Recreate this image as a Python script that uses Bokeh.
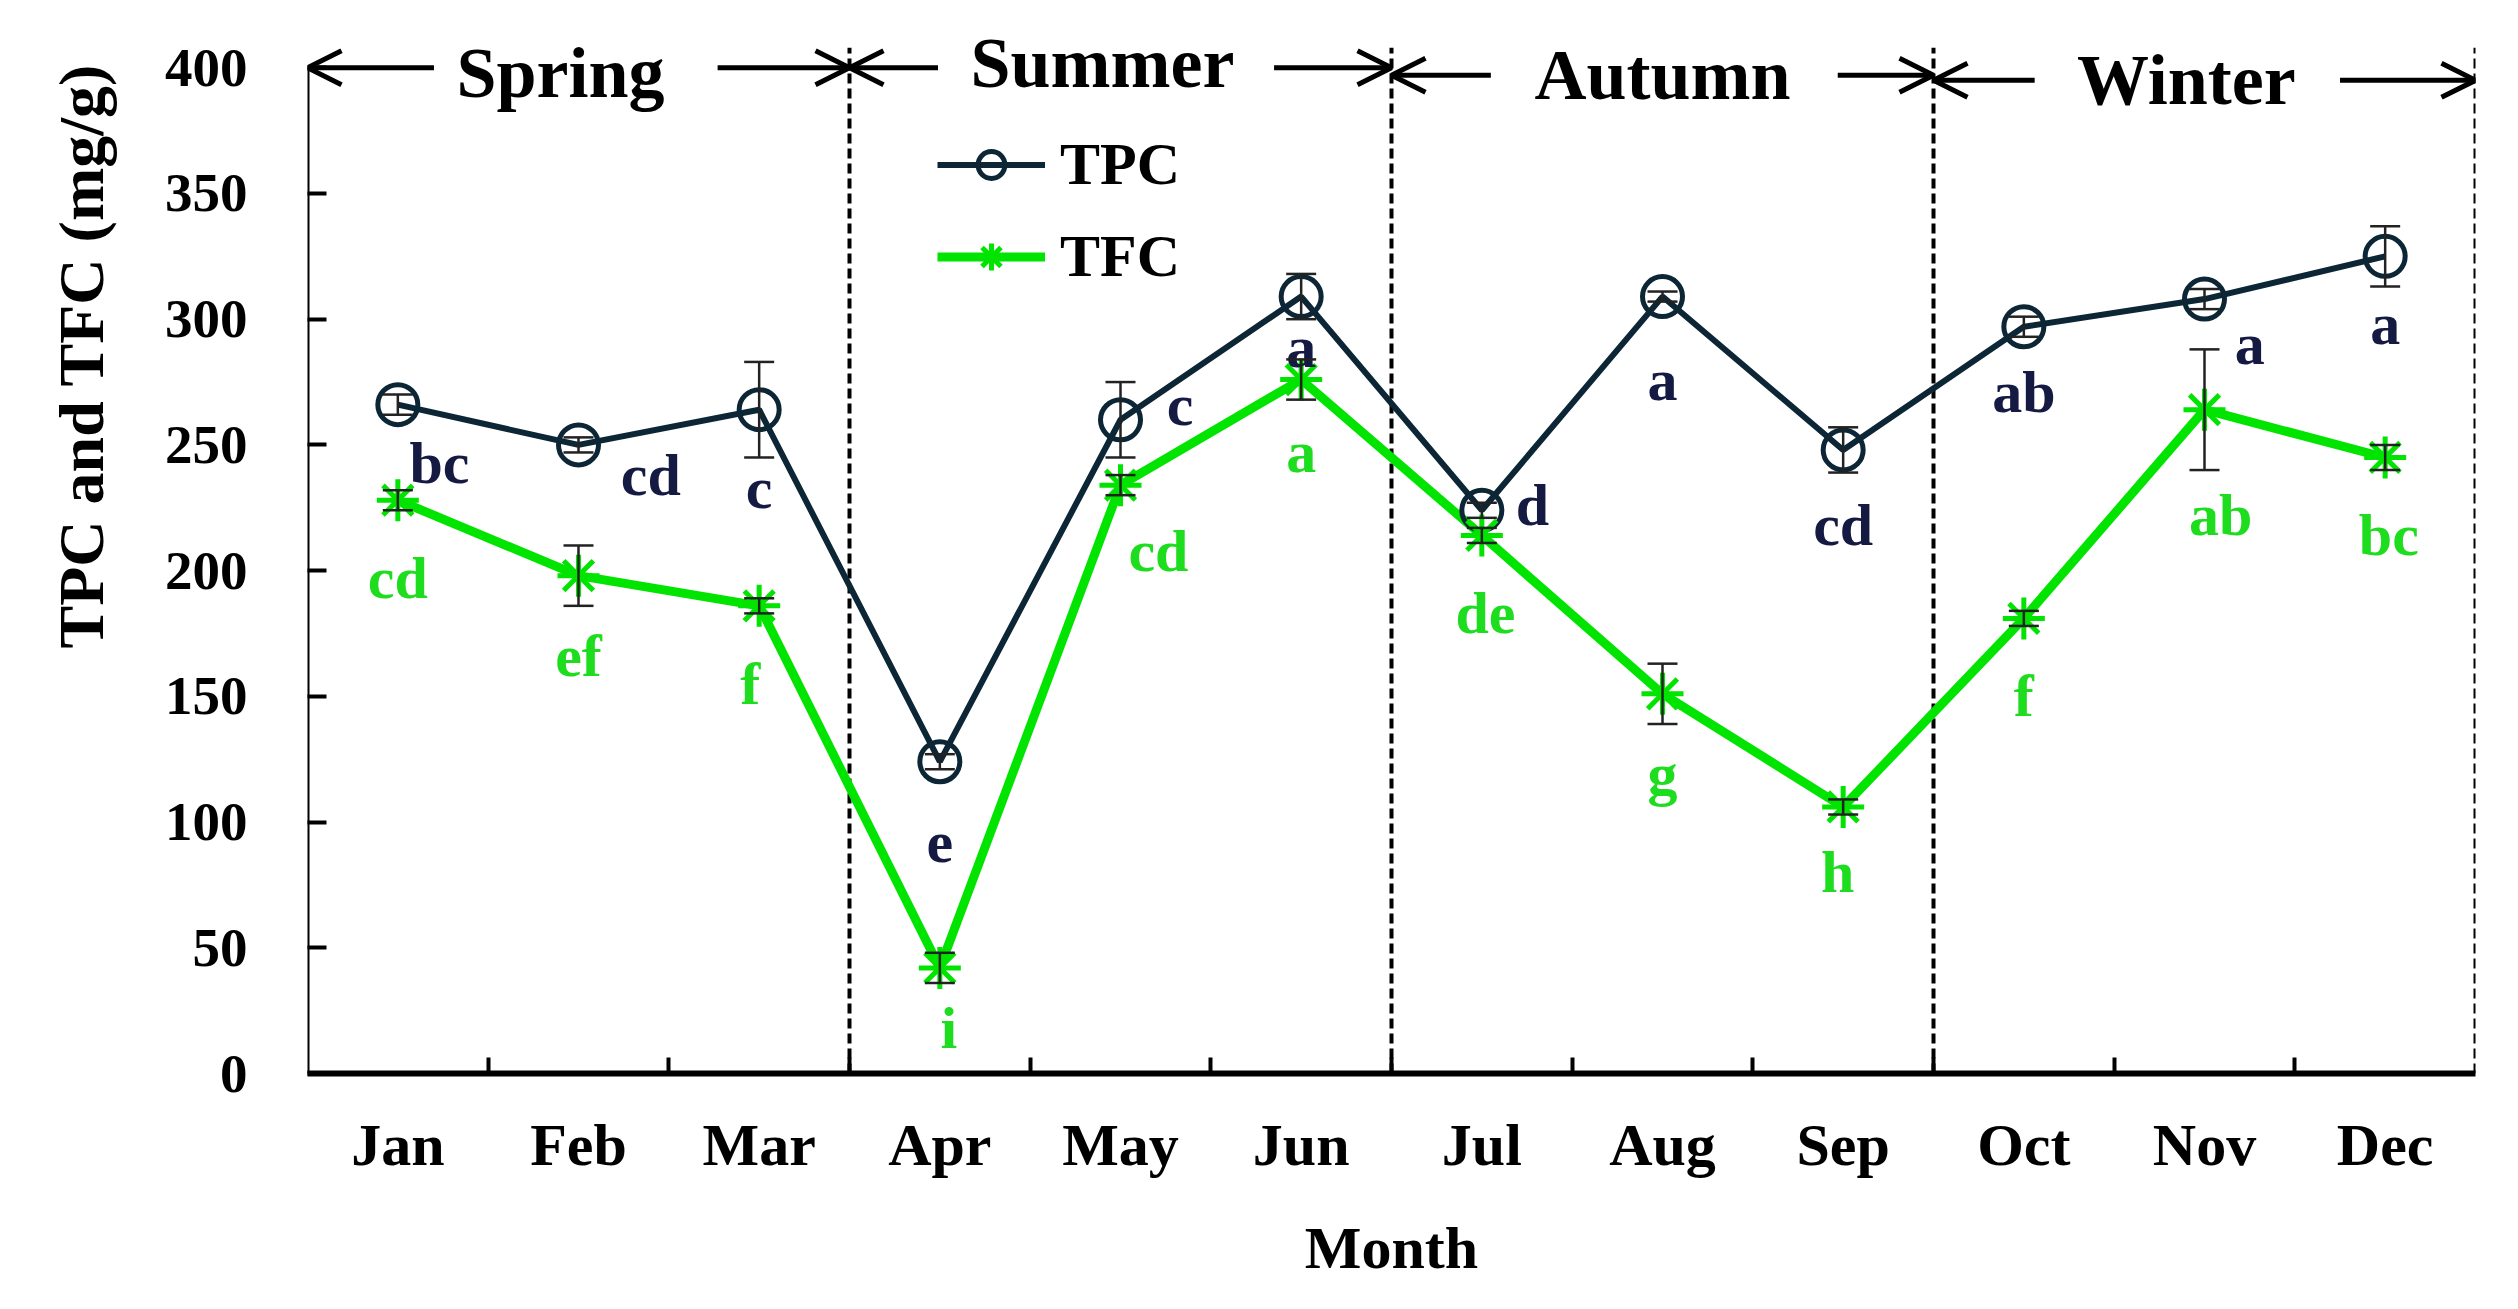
from bokeh.plotting import figure
from bokeh.models import (ColumnDataSource, Range1d, FixedTicker, Whisker, TeeHead,
                          Arrow, OpenHead, Legend, LegendItem)
from bokeh.embed import file_html
from bokeh.resources import INLINE
from bokeh.core.properties import value
import numpy as np

# ---------------- data ----------------
months = ["Jan", "Feb", "Mar", "Apr", "May", "Jun", "Jul", "Aug", "Sep", "Oct", "Nov", "Dec"]
tpc = [266, 250, 264, 124, 260, 309, 224, 309, 248, 297, 308, 325]
tpc_err = [4, 3, 19, 3, 15, 9, 3, 2, 9, 4, 4, 12]
tfc = [228, 198, 186, 42, 234, 276, 214, 151, 106, 181, 264, 245]
tfc_err = [4, 12, 3, 6, 4, 8, 3, 12, 3, 3, 24, 5]
tpc_letters = ["bc", "cd", "c", "e", "c", "a", "d", "a", "cd", "ab", "a", "a"]
tfc_letters = ["cd", "ef", "f", "i", "cd", "a", "de", "g", "h", "f", "ab", "bc"]
seasons = ["Spring", "Summer", "Autumn", "Winter"]
season_bounds = [0.5, 3.5, 6.5, 9.5, 12.5]
y_ticks = [0, 50, 100, 150, 200, 250, 300, 350, 400]
y_title = "TPC and TFC (mg/g)"

# ---------------- layout constants ----------------
tpc_dx = [0.23, 0.40, 0.0, 0.0, 0.33, 0.0, 0.28, 0.0, 0.0, 0.0, 0.25, 0.0]
tpc_dy = [-23, -12, -31, -32, 6, -20, 2, -33, -30, -26, -18, -27]
tfc_dx = [0.0, 0.0, -0.05, 0.05, 0.21, 0.0, 0.02, 0.0, -0.03, 0.0, 0.09, 0.02]
tfc_dy = [-31, -32, -31, -24, -26, -29, -31, -32, -26, -31, -42, -31]
season_dx = [-0.1, -0.1, 0.0, -0.1]
season_y = [398, 402, 397, 395]
arrow_y = [400, 400, 397, 395]
left_len = [0.70, 0.49, 0.55, 0.56]
right_len = [0.73, 0.65, 0.53, 0.75]
Y_TOP = 400
Y_VIEW = 418
SEP_TOP = 408
TITLE_PAD = 24   # non-breaking spaces that lift the y title towards the top

TPC_COLOR = "#0c2636"
TPC_TEXT = "#141a42"
TFC_COLOR = "#00e400"
TFC_TEXT = "#1edc1e"
FONT = "Liberation Serif"

x = np.arange(1, len(months) + 1)

p = figure(width=2510, height=1300, output_backend="svg", toolbar_location=None,
           x_range=Range1d(season_bounds[0], season_bounds[-1]), y_range=Range1d(0, Y_VIEW),
           min_border_left=307, min_border_right=35, min_border_top=22, min_border_bottom=227)
p.outline_line_color = None
p.xgrid.visible = False
p.ygrid.visible = False
p.background_fill_color = "white"
p.border_fill_color = "white"

# left axis line (stops at 400)
p.segment(x0=[season_bounds[0]], y0=[0], x1=[season_bounds[0]], y1=[Y_TOP],
          line_color="black", line_width=4)

# dashed season separators
p.segment(x0=season_bounds[1:], y0=[0] * 4, x1=season_bounds[1:], y1=[SEP_TOP] * 4,
          line_color="black", line_width=4, line_dash="10 5")

# lines and markers
l_tpc = p.line(x, tpc, line_color=TPC_COLOR, line_width=6)
l_tfc = p.line(x, tfc, line_color=TFC_COLOR, line_width=9)
m_tpc = p.scatter(x, tpc, marker="circle", size=40, line_color=TPC_COLOR, line_width=5,
                  fill_color=None)
m_tfc = p.scatter(x, tfc, marker="asterisk", size=42, line_color=TFC_COLOR, line_width=5)

# error bars
for vals, errs in ((tpc, tpc_err), (tfc, tfc_err)):
    v = np.array(vals, dtype=float)
    e = np.array(errs, dtype=float)
    src = ColumnDataSource(dict(x=x, up=v + e, lo=v - e))
    w = Whisker(base="x", upper="up", lower="lo", source=src, dimension="height",
                line_color="#222222", line_width=2.5, level="overlay",
                upper_head=TeeHead(size=30, line_width=2.5, line_color="#222222"),
                lower_head=TeeHead(size=30, line_width=2.5, line_color="#222222"))
    p.add_layout(w)

# significance letters
p.text(x + np.array(tpc_dx), np.array(tpc) + np.array(tpc_dy), text=tpc_letters,
       text_font=value(FONT), text_font_style="bold", text_font_size="60px",
       text_color=TPC_TEXT, text_align="center", text_baseline="middle")
p.text(x + np.array(tfc_dx), np.array(tfc) + np.array(tfc_dy), text=tfc_letters,
       text_font=value(FONT), text_font_style="bold", text_font_size="60px",
       text_color=TFC_TEXT, text_align="center", text_baseline="middle")

# season labels and arrows
lo_b = np.array(season_bounds[:-1])
hi_b = np.array(season_bounds[1:])
centers = (lo_b + hi_b) / 2 + np.array(season_dx)
p.text(centers, season_y, text=seasons, text_font=value(FONT), text_font_style="bold",
       text_font_size="72px", text_color="black", text_align="center",
       text_baseline="middle")
arr_src = ColumnDataSource(dict(
    xs=np.concatenate([lo_b + np.array(left_len), hi_b - np.array(right_len)]),
    xe=np.concatenate([lo_b, hi_b]),
    y=arrow_y + arrow_y))
p.add_layout(Arrow(end=OpenHead(size=34, line_width=5, line_color="black"),
                   source=arr_src, x_start="xs", y_start="y", x_end="xe", y_end="y",
                   line_width=5, line_color="black"))

# axes
p.yaxis.ticker = FixedTicker(ticks=y_ticks)
p.xaxis.ticker = FixedTicker(ticks=list(x), minor_ticks=list(x[:-1] + 0.5))
p.xaxis.major_label_overrides = {int(i): m for i, m in zip(x, months)}
for ax in (p.xaxis, p.yaxis):
    ax.axis_line_color = "black"
    ax.major_tick_line_color = "black"
    ax.minor_tick_line_color = "black"
    ax.major_label_text_font = FONT
    ax.major_label_text_font_style = "bold"
    ax.major_label_text_color = "black"
    ax.axis_label_text_font = FONT
    ax.axis_label_text_font_style = "bold"
    ax.axis_label_text_color = "black"

p.xaxis.axis_line_width = 6
p.xaxis.major_tick_in = 0
p.xaxis.major_tick_out = 0
p.xaxis.minor_tick_in = 16
p.xaxis.minor_tick_out = 0
p.xaxis.minor_tick_line_width = 4
p.xaxis.major_label_text_font_size = "60px"
p.xaxis.major_label_standoff = 38
p.xaxis.axis_label = "Month"
p.xaxis.axis_label_text_font_size = "60px"
p.xaxis.axis_label_standoff = 34

p.yaxis.axis_line_color = None
p.yaxis.major_tick_in = 19
p.yaxis.major_tick_out = 0
p.yaxis.major_tick_line_width = 4
p.yaxis.minor_tick_line_color = None
p.yaxis.major_label_text_font_size = "55px"
p.yaxis.major_label_standoff = 60
p.yaxis.axis_label = "\u00a0" * TITLE_PAD + y_title
p.yaxis.axis_label_text_font_size = "64px"
p.yaxis.axis_label_standoff = 45

# legend
legend = Legend(items=[LegendItem(label="TPC", renderers=[l_tpc, m_tpc]),
                       LegendItem(label="TFC", renderers=[l_tfc, m_tfc])],
                location=(630, 782), orientation="vertical",
                label_text_font=FONT, label_text_font_style="bold",
                label_text_font_size="60px", label_text_color="black",
                glyph_width=108, glyph_height=67, label_height=67, spacing=23,
                label_standoff=15, padding=0, margin=0,
                border_line_color=None, background_fill_alpha=0)
p.add_layout(legend)

open("out.html", "w").write(file_html(p, INLINE))
